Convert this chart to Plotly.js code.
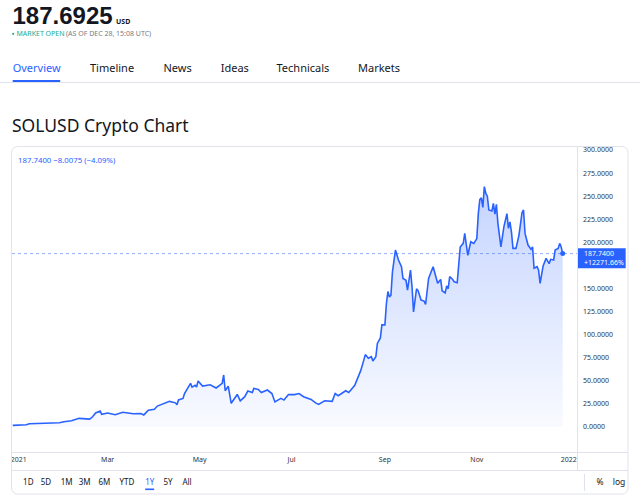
<!DOCTYPE html>
<html><head><meta charset="utf-8">
<script src="https://cdn.plot.ly/plotly-3.0.1.min.js"></script>
<style>
body{margin:0;width:640px;height:502px;overflow:hidden;background:#fff;position:relative;font-family:"Noto Sans",sans-serif}
#chart{position:absolute;left:0;top:0;width:640px;height:502px}
#ui{position:absolute;left:0;top:0;width:640px;height:502px;pointer-events:none}
</style></head><body>
<div id="chart"></div>
<svg id="ui" width="640" height="502" xmlns="http://www.w3.org/2000/svg"></svg>
<script>
// ---- data ----
const symbolTitle = "SOLUSD Crypto Chart";
const headerPrice = "187.6925";
const headerCurrency = "USD";
const marketStatus = "MARKET OPEN";
const marketTime = "(AS OF DEC 28, 15:08 UTC)";
const tabs = ["Overview", "Timeline", "News", "Ideas", "Technicals", "Markets"];
const rangeButtons = ["1D", "5D", "1M", "3M", "6M", "YTD", "1Y", "5Y", "All"];
const activeRange = "1Y";
const lastPrice = 187.74;
const dayChange = -8.0075;
const dayChangePct = -4.09;
const yearChangePct = 12271.66;

const dates = [
"2020-12-28","2021-01-06","2021-01-08","2021-01-18","2021-01-28","2021-01-31","2021-02-05","2021-02-10","2021-02-17","2021-02-19",
"2021-02-21","2021-02-24","2021-02-25","2021-03-01","2021-03-06","2021-03-11","2021-03-18","2021-03-23","2021-03-25","2021-03-28",
"2021-04-01","2021-04-03","2021-04-07","2021-04-11","2021-04-15","2021-04-16","2021-04-17","2021-04-20","2021-04-21","2021-04-25",
"2021-04-26","2021-04-28","2021-04-29","2021-04-30","2021-05-03","2021-05-08","2021-05-12","2021-05-16","2021-05-17","2021-05-18",
"2021-05-20","2021-05-22","2021-05-26","2021-05-28","2021-05-31","2021-06-02","2021-06-05","2021-06-06","2021-06-09","2021-06-11",
"2021-06-15","2021-06-18","2021-06-20","2021-06-24","2021-06-26","2021-06-29","2021-07-03","2021-07-06","2021-07-09","2021-07-14",
"2021-07-17","2021-07-19","2021-07-23","2021-07-28","2021-07-30","2021-08-01","2021-08-06","2021-08-08","2021-08-12","2021-08-16",
"2021-08-18","2021-08-19","2021-08-21","2021-08-23","2021-08-24","2021-08-26","2021-08-27","2021-08-29","2021-08-30","2021-09-01",
"2021-09-02","2021-09-03","2021-09-04","2021-09-05","2021-09-06","2021-09-08","2021-09-10","2021-09-12","2021-09-13","2021-09-15",
"2021-09-16","2021-09-18","2021-09-19","2021-09-20","2021-09-22","2021-09-23","2021-09-25","2021-09-27","2021-09-28","2021-09-30",
"2021-10-03","2021-10-04","2021-10-06","2021-10-08","2021-10-09","2021-10-11","2021-10-12","2021-10-13","2021-10-14","2021-10-16",
"2021-10-17","2021-10-19","2021-10-20","2021-10-21","2021-10-23","2021-10-24","2021-10-26","2021-10-28","2021-10-30","2021-11-01",
"2021-11-02","2021-11-03","2021-11-04","2021-11-05","2021-11-06","2021-11-07","2021-11-08","2021-11-09","2021-11-11","2021-11-12",
"2021-11-13","2021-11-14","2021-11-15","2021-11-17","2021-11-19","2021-11-21","2021-11-22","2021-11-23","2021-11-24","2021-11-25",
"2021-11-27","2021-11-28","2021-11-29","2021-12-01","2021-12-02","2021-12-03","2021-12-05","2021-12-07","2021-12-08","2021-12-09",
"2021-12-11","2021-12-12","2021-12-13","2021-12-15","2021-12-16","2021-12-17","2021-12-19","2021-12-20","2021-12-22","2021-12-23",
"2021-12-25","2021-12-26","2021-12-27","2021-12-28"];
const prices = [
1.52,2.1,3.3,3.9,4.3,5.4,6.5,9.1,8.3,10.8,
14.9,16.9,13.4,14.9,13.0,15.7,14.1,14.4,12.8,17.9,
18.9,22.4,25.3,27.5,25.9,23.9,29.0,30.7,36.0,47.0,
43.0,45.0,43.0,49.6,44.0,45.5,42.0,47.0,56.1,39.0,
44.0,25.4,35.0,28.0,32.6,38.7,37.0,41.5,40.5,37.0,
39.8,36.0,26.9,30.7,28.9,35.0,34.8,36.0,32.6,29.6,
25.9,24.2,28.2,27.5,36.0,33.6,39.0,37.2,45.0,61.1,
72.2,78.2,74.2,75.9,71.2,75.9,90.3,96.3,110.4,110.4,
133.6,146.6,140.6,142.6,167.8,191.6,180.8,173.5,160.7,158.7,
148.1,169.8,151.7,124.5,149.6,147.6,137.4,136.3,132.5,160.7,
173.5,167.8,155.5,159.7,147.4,145.2,152.7,149.6,162.7,159.7,
157.2,156.2,180.8,194.9,198.8,209.6,185.9,200.6,198.8,204.0,
231.1,246.2,248.2,237.8,260.3,253.0,250.0,235.0,233.9,242.2,
230.5,241.2,220.5,195.0,216.9,231.1,215.0,222.1,211.0,193.4,
193.4,202.0,207.8,232.1,235.0,209.6,197.0,192.3,195.0,171.8,
173.5,169.8,155.5,174.2,178.8,182.5,176.8,181.5,180.8,191.6,
193.4,198.8,195.0,187.74];

const xTickVals = ["2021-01-01","2021-03-01","2021-05-01","2021-07-01","2021-09-01","2021-11-01","2022-01-01"];
const xTickText = ["2021","Mar","May","Jul","Sep","Nov","2022"];
const yTickVals = [0,25,50,75,100,125,150,200,225,250,275,300];

// ---- layout constants ----
const W = 640, H = 502;
const PL = 12, PR = 577.3, PT = 147, PB = 452;
const yMin = -27.4, yMax = 303.3;
const xRange = ["2020-12-27 12:00", "2022-01-06 12:00"];
const BLUE = "#2962ff";
const fmt4 = v => v.toFixed(4);
const sgn = v => (v < 0 ? "\u2212" : "+");

const pw = PR - PL, ph = PB - PT;
const xp = px => (px - PL) / pw;
const yp = py => (PB - py) / ph;
const yPaperOf = v => (v - yMin) / (yMax - yMin);

const lastDate = dates[dates.length - 1];
const lastVal = prices[prices.length - 1];

const traces = [
  {
    x: dates, y: prices, type: "scatter", mode: "lines",
    line: {color: BLUE, width: 1.6, shape: "linear"},
    fill: "tozeroy",
    fillgradient: {type: "vertical", colorscale: [[0, "rgba(41,98,255,0.03)"], [1, "rgba(41,98,255,0.27)"]]},
    hoverinfo: "skip", showlegend: false
  },
  {
    x: [lastDate], y: [lastVal], type: "scatter", mode: "markers",
    marker: {color: BLUE, size: 5}, hoverinfo: "skip", showlegend: false, cliponaxis: false
  }
];

const lp = yPaperOf(lastVal);
const layout = {
  width: W, height: H,
  margin: {l: PL, r: W - PR, t: PT, b: H - PB, pad: 0},
  paper_bgcolor: "rgba(0,0,0,0)", plot_bgcolor: "rgba(0,0,0,0)",
  font: {family: "Noto Sans, sans-serif", size: 7, color: "#131722"},
  showlegend: false,
  xaxis: {
    type: "date", range: xRange, tickmode: "array", tickvals: xTickVals, ticktext: xTickText,
    showgrid: false, zeroline: false, showline: false, ticks: "", tickfont: {size: 7, color: "#333"},
    ticklabelstandoff: 2, fixedrange: true
  },
  yaxis: {
    range: [yMin, yMax], side: "right", tickmode: "array", tickvals: yTickVals, tickformat: ".4f",
    showgrid: false, zeroline: false, showline: false, ticks: "", tickfont: {size: 7, color: "#333"},
    ticklabelstandoff: 5, fixedrange: true
  },
  shapes: [
    {type: "line", xref: "paper", yref: "y", x0: 0, x1: 1, y0: lastVal, y1: lastVal,
     line: {color: "rgba(41,98,255,0.5)", width: 1, dash: "dot"}, layer: "below"},
    {type: "rect", xref: "paper", yref: "paper", x0: 1.0, x1: xp(626),
     y0: lp - 14.6 / ph, y1: lp + 5.4 / ph, fillcolor: BLUE, line: {width: 0}, layer: "above"}
  ],
  annotations: [
    {xref: "paper", yref: "paper", x: xp(16.5), y: yp(160), xanchor: "left", yanchor: "middle", showarrow: false,
     text: fmt4(lastPrice) + " " + sgn(dayChange) + Math.abs(dayChange).toFixed(4) +
           " (" + sgn(dayChangePct) + Math.abs(dayChangePct).toFixed(2) + "%)",
     font: {size: 7.8, color: BLUE}},
    {xref: "paper", yref: "paper", x: xp(582.5), y: lp, xanchor: "left", yanchor: "middle", showarrow: false,
     text: fmt4(lastVal), font: {size: 7, color: "#fff"}},
    {xref: "paper", yref: "paper", x: xp(582.5), y: lp - 9 / ph, xanchor: "left", yanchor: "middle", showarrow: false,
     text: "+" + yearChangePct.toFixed(2) + "%", font: {size: 7, color: "#fff"}}
  ]
};

Plotly.newPlot("chart", traces, layout, {staticPlot: true, displayModeBar: false});

// ---- page chrome (SVG overlay) ----
const NS = "http://www.w3.org/2000/svg";
const svg = document.getElementById("ui");
function el(tag, attrs, text) {
  const e = document.createElementNS(NS, tag);
  for (const k in attrs) e.setAttribute(k, attrs[k]);
  if (text !== undefined) e.textContent = text;
  svg.appendChild(e);
  return e;
}
const FF = "Noto Sans, sans-serif";
el("text", {x: 12.5, y: 23.5, "font-family": "Liberation Sans, Arial, sans-serif", "font-size": 24, "font-weight": "bold", fill: "#131722"}, headerPrice);
el("text", {x: 116, y: 23.5, "font-family": FF, "font-size": 7, "font-weight": "bold", fill: "#131722"}, headerCurrency);
el("circle", {cx: 13.2, cy: 33.8, r: 1.1, fill: "#22ab94"});
el("text", {x: 16.5, y: 36.2, "font-family": FF, "font-size": 7, fill: "#22ab94"}, marketStatus);
el("text", {x: 66, y: 36.2, "font-family": FF, "font-size": 7, fill: "#787b86"}, marketTime);

const tabX = [12.7, 90, 163.5, 220.7, 276.5, 358];
tabs.forEach((t, i) => el("text", {x: tabX[i], y: 72, "font-family": FF, "font-size": 11, fill: i === 0 ? BLUE : "#131722"}, t));
el("rect", {x: 12.7, y: 80, width: 47.5, height: 2, fill: BLUE});
el("line", {x1: 0, x2: 640, y1: 82.5, y2: 82.5, stroke: "#e0e3eb", "stroke-width": 1});

el("text", {x: 12, y: 131.5, "font-family": FF, "font-size": 17.5, fill: "#131722"}, symbolTitle);

el("rect", {x: 11.5, y: 146.5, width: 616.5, height: 347.5, rx: 6, ry: 6, fill: "none", stroke: "#e0e3eb", "stroke-width": 1});
el("line", {x1: 577.5, x2: 577.5, y1: 147, y2: 470, stroke: "#e0e3eb", "stroke-width": 1});
el("line", {x1: 11.5, x2: 628, y1: 452.5, y2: 452.5, stroke: "#e0e3eb", "stroke-width": 1});
el("line", {x1: 11.5, x2: 628, y1: 470.5, y2: 470.5, stroke: "#e0e3eb", "stroke-width": 1});

const btnX = [28.3, 46, 66.7, 84.7, 104.4, 127, 149.7, 168, 187];
rangeButtons.forEach((b, i) => el("text", {x: btnX[i], y: 485, "text-anchor": "middle", "font-family": FF, "font-size": 8,
  fill: b === activeRange ? BLUE : "#131722"}, b));
const ai = rangeButtons.indexOf(activeRange);
el("rect", {x: btnX[ai] - 4.5, y: 488.5, width: 9, height: 1.6, fill: BLUE});
el("line", {x1: 584.5, x2: 584.5, y1: 474, y2: 491, stroke: "#e0e3eb", "stroke-width": 1});
el("text", {x: 600, y: 485, "text-anchor": "middle", "font-family": FF, "font-size": 8.5, fill: "#131722"}, "%");
el("text", {x: 619, y: 485, "text-anchor": "middle", "font-family": FF, "font-size": 8.5, fill: "#131722"}, "log");
</script>
</body></html>
